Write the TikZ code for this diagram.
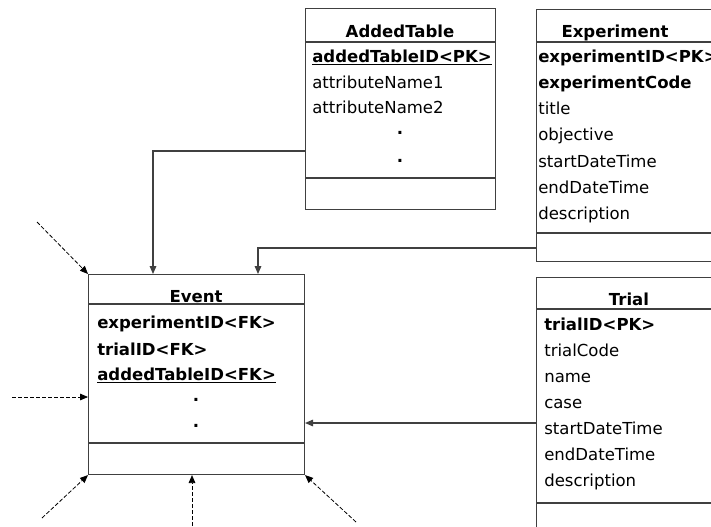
\documentclass[tikz,border=0pt]{standalone}
\usepackage{fontspec}
\setmainfont{DejaVu Sans}
\usetikzlibrary{arrows.meta}
\definecolor{lc}{HTML}{404040}
\newcommand\myfs{\fontsize{12.4pt}{15pt}\selectfont}
\tikzset{
  tbl/.style={draw=lc, line width=0.8pt, anchor=north west, inner sep=0pt},
  sepline/.style={draw=lc, line width=0.8pt},
  hd/.style={anchor=base, inner sep=0pt, font=\myfs\bfseries},
  fld/.style={anchor=base west, inner sep=0pt, font=\myfs},
  bfld/.style={anchor=base west, inner sep=0pt, font=\myfs\bfseries},
  dotn/.style={anchor=base, inner sep=0pt, font=\myfs\bfseries},
  conn/.style={draw=lc, line width=0.8pt, -{Triangle[length=6pt,width=5pt]}},
  dconn/.style={draw=black, line width=0.6pt, dash pattern=on 3pt off 1.5pt, -{Triangle[length=6pt,width=5pt]}},
}
\begin{document}
\begin{tikzpicture}[x=0.75pt,y=-0.75pt]
\useasboundingbox (0,0) rectangle (711,526);
\clip (0,0) rectangle (711,526);

% AddedTable
\node[tbl, minimum width={190*0.75pt}, minimum height={201*0.75pt}] (added) at (305,8) {};
\draw[sepline] (305,42) -- (495,42);
\draw[sepline] (305,178) -- (495,178);
\node[hd] (addedh) at (400,37) {AddedTable};
\node[bfld] (a1) at (312,62) {\underline{addedTableID<PK>}};
\node[fld] (a2) at (312,88) {attributeName1};
\node[fld] (a3) at (312,113) {attributeName2};
\node[dotn] (a4) at (400,134) {.};
\node[dotn] (a5) at (400,162) {.};

% Experiment
\node[tbl, minimum width={264*0.75pt}, minimum height={252*0.75pt}] (exp) at (536,9) {};
\draw[sepline] (536,42) -- (800,42);
\draw[sepline] (536,233) -- (800,233);
\node[hd] (exph) at (615,37) {Experiment};
\node[bfld] (e1) at (538,62) {experimentID<PK>};
\node[bfld] (e2) at (538,88.3) {experimentCode};
\node[fld] (e3) at (538,114.6) {title};
\node[fld] (e4) at (538,140.9) {objective};
\node[fld] (e5) at (538,167.2) {startDateTime};
\node[fld] (e6) at (538,193.5) {endDateTime};
\node[fld] (e7) at (538,219.8) {description};

% Event
\node[tbl, minimum width={216*0.75pt}, minimum height={200*0.75pt}] (event) at (88,274) {};
\draw[sepline] (88,304) -- (304,304);
\draw[sepline] (88,443) -- (304,443);
\node[hd] (evh) at (196,302) {Event};
\node[bfld] (v1) at (97,328) {experimentID<FK>};
\node[bfld] (v2) at (97,355) {trialID<FK>};
\node[bfld] (v3) at (97,380) {\underline{addedTableID<FK>}};
\node[dotn] (v4) at (196,401) {.};
\node[dotn] (v5) at (196,427) {.};

% Trial
\node[tbl, minimum width={264*0.75pt}, minimum height={283*0.75pt}] (trial) at (536,277) {};
\draw[sepline] (536,309) -- (800,309);
\draw[sepline] (536,503) -- (800,503);
\node[hd] (trh) at (629,305) {Trial};
\node[bfld] (t1) at (544,330) {trialID<PK>};
\node[fld] (t2) at (544,356.1) {trialCode};
\node[fld] (t3) at (544,382.2) {name};
\node[fld] (t4) at (544,408.3) {case};
\node[fld] (t5) at (544,434.4) {startDateTime};
\node[fld] (t6) at (544,460.5) {endDateTime};
\node[fld] (t7) at (544,486.6) {description};

% connectors
\draw[conn] (added.west |- 0,151) -| (event.north -| 153,0);
\draw[conn] (exp.west |- 0,248) -| (event.north -| 258,0);
\draw[conn] (trial.west |- 0,423) -- (event.east |- 0,423);

% dashed incoming arrows
\coordinate (d1) at (37,222);
\coordinate (d2) at (12,397);
\coordinate (d3) at (42,518);
\coordinate (d4) at (192,526);
\coordinate (d5) at (356,522);
\draw[dconn] (d1) -- (event.north west);
\draw[dconn] (d2) -- (event.west |- d2);
\draw[dconn] (d3) -- (event.south west);
\draw[dconn] (d4) -- (event.south -| d4);
\draw[dconn] (d5) -- (event.south east);
\end{tikzpicture}
\end{document}
